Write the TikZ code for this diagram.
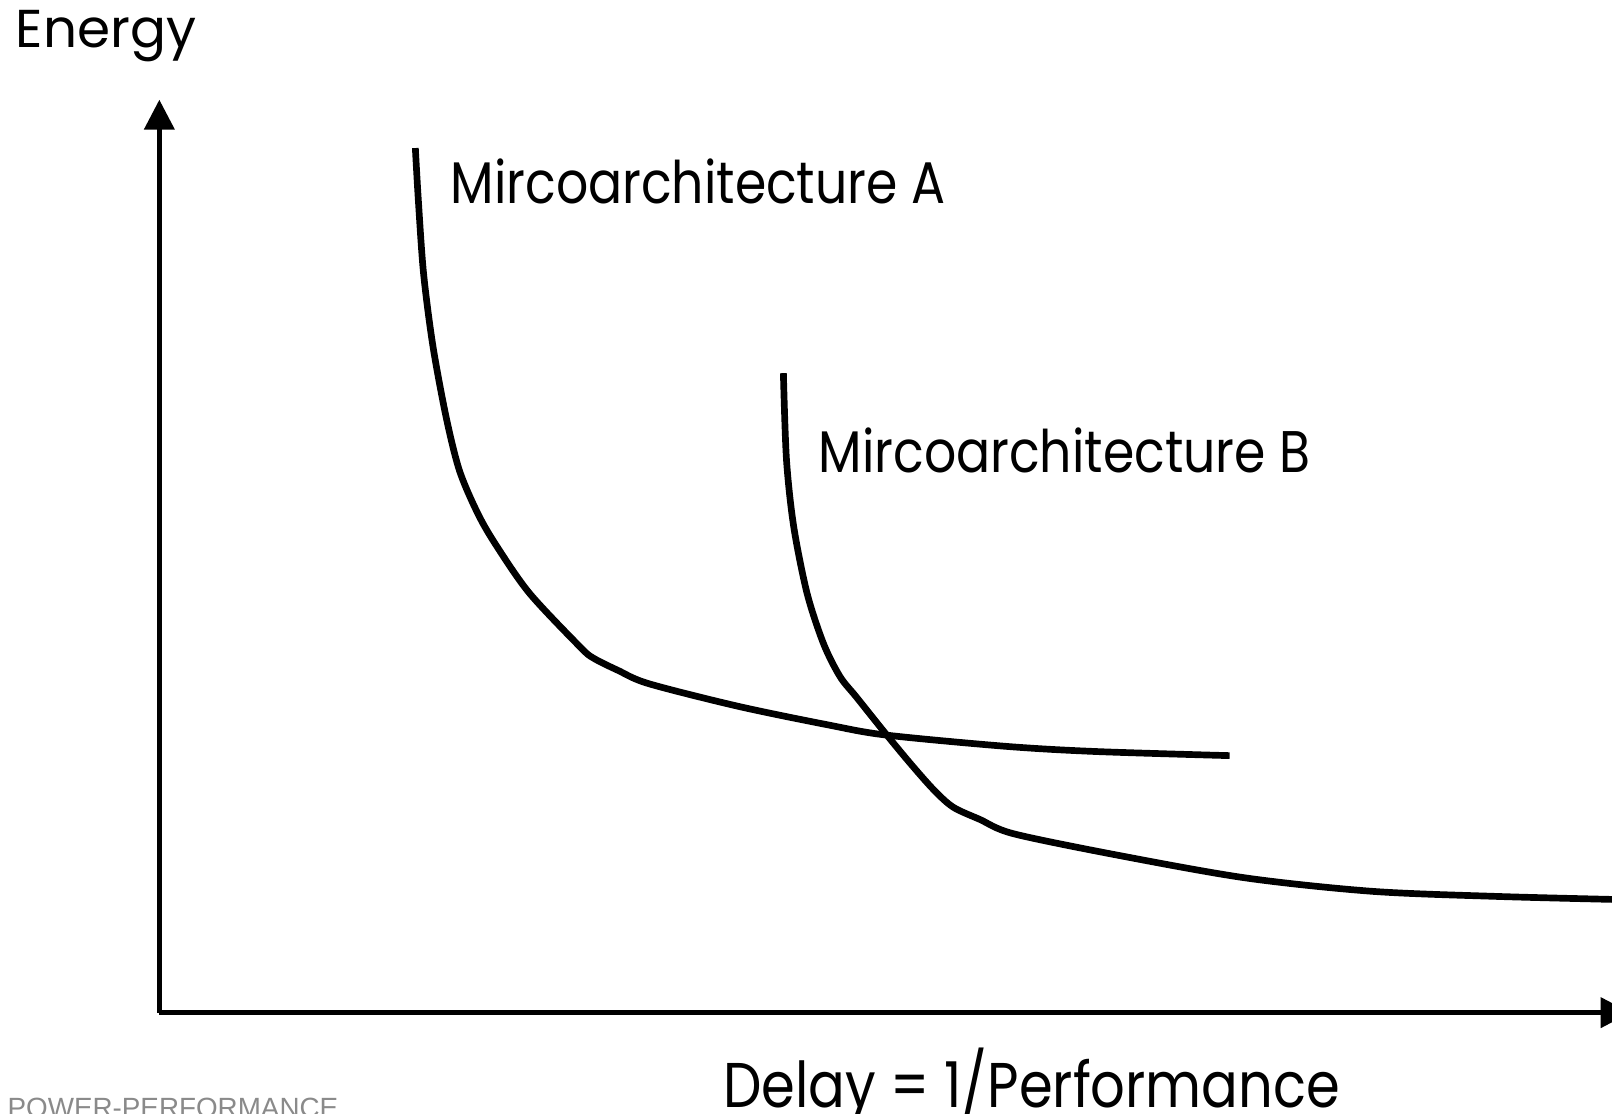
\documentclass[tikz,border=0pt]{standalone}
\usepackage{fontspec}
\usepackage{tikz}
\usetikzlibrary{arrows.meta}
\newfontfamily\chartfont{Poppins}
\newfontfamily\chartnarrow{Poppins}[FakeStretch=0.86]
\setmainfont{Liberation Sans}
\definecolor{footgray}{RGB}{138,138,138}
\tikzset{
    axisline/.style={line width=2.5pt, black, -{Triangle[length=0.58cm, width=0.58cm]}},
    curveline/.style={line width=3.7pt, black, line cap=butt},
    curvelabel/.style={anchor=base west, inner sep=0pt, font=\chartnarrow\fontsize{32.5}{36}\selectfont},
}

\begin{document}
\begin{tikzpicture}[
    x=0.02cm, y=-0.02cm,
    axislabel/.style={anchor=base west, inner sep=0pt, font=\chartfont\fontsize{29.5}{34}\selectfont},
    footlabel/.style={anchor=base west, inner sep=0pt, text=footgray, font=\fontsize{15.4}{18}\selectfont}
]
\useasboundingbox (0,0) rectangle (1568,1083);

% Axes
\coordinate (origin) at (155,985);
\coordinate (ytip) at (155,97);
\coordinate (xtip) at (1586,985);
\draw[axisline] (origin) -- (ytip);
\draw[axisline] (origin) -- (xtip);

% Axis titles
\node[axislabel] (energy) at (15,46) {Energy};
\node[axislabel, font=\chartnarrow\fontsize{35}{40}\selectfont] (delay) at (703,1077) {Delay = 1/Performance};

% Microarchitecture A
\draw[curveline] plot[smooth, tension=0.5] coordinates {
    (404,144) (407,196) (412,266) (421,336) (434,406) (447,458) (465,500)
    (483,531) (515,577) (564,629) (577,640) (601,652) (631,665) (718,687)
    (805,705) (862,715) (979,726) (1066,731) (1196,735)};
\node[curvelabel] (arch-a) at (438,198) {Mircoarchitecture A};

% Microarchitecture B
\draw[curveline] plot[smooth, tension=0.5] coordinates {
    (762,363) (765,447) (772,512) (785,577) (801,626) (817,658) (833,678)
    (861,713) (885,742) (908,768) (927,785) (953,797) (986,811) (1088,832)
    (1212,854) (1335,867) (1458,872) (1575,875)};
\node[curvelabel] (arch-b) at (796,460) {Mircoarchitecture B};

% Footer
\node[footlabel] (footer) at (7,1087) {POWER-PERFORMANCE};
\end{tikzpicture}
\end{document}
